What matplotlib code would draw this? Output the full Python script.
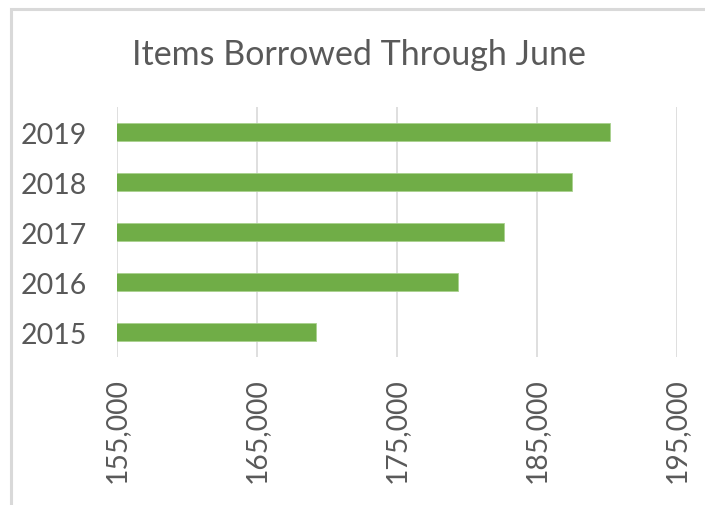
import matplotlib
matplotlib.use("Agg")
import matplotlib.pyplot as plt
from matplotlib.ticker import FuncFormatter
from matplotlib.patches import Rectangle

years = ["2015", "2016", "2017", "2018", "2019"]
items = [169220, 179390, 182680, 187540, 190210]
xticks = [155000, 165000, 175000, 185000, 195000]

plt.rcParams['font.family'] = ['Lato', 'DejaVu Sans']
txt = '#595959'

fig = plt.figure(figsize=(7.05, 5.06), dpi=100)
ax = fig.add_axes([117/705, 148/506, (676.7-117)/705, 250/506])

ax.barh(range(len(years)), items, height=0.35, left=0,
        color='#70AD47', edgecolor='#A9D18E', linewidth=0.6, zorder=3)
ax.set_xlim(155000, 195000)
ax.set_ylim(-0.5, 4.5)
ax.set_xticks(xticks)
ax.xaxis.set_major_formatter(FuncFormatter(lambda v, p: f"{int(v):,}"))
ax.set_yticks(range(len(years)))
ax.set_yticklabels(years)
ax.grid(axis='x', color='#D9D9D9', linewidth=1.2, zorder=0)
for s in ax.spines.values():
    s.set_visible(False)
ax.tick_params(axis='both', length=0, colors=txt)
ax.tick_params(axis='y', pad=21.6, labelsize=20.5)
ax.tick_params(axis='x', pad=14.4, labelsize=20.3)
for lab in ax.get_xticklabels():
    lab.set_rotation(90)

fig.text(359/705, 1 - 55/506, "Items Borrowed Through June", ha='center', va='center',
         fontsize=24.5, color=txt)

fig.patches.append(Rectangle((11/705, -0.1), 1.2, 1.1 - 10/506, transform=fig.transFigure,
                             fill=False, edgecolor='#D9D9D9', linewidth=2.2))

fig.savefig("out.png", dpi=100)
